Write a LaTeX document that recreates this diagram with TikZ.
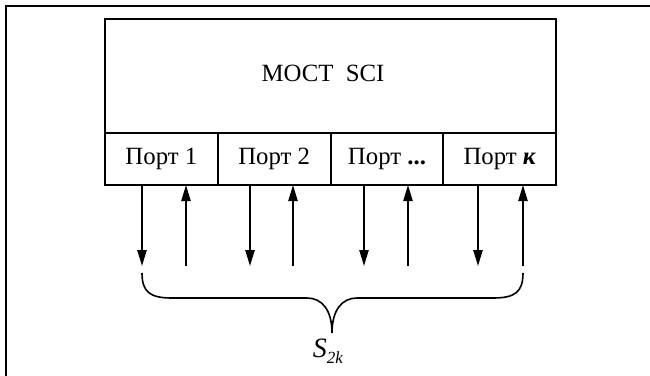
\documentclass[tikz,border=0pt]{standalone}
\usepackage{fontspec}
\setmainfont{Liberation Serif}
\usetikzlibrary{arrows.meta,positioning}
\tikzset{
  bridgebox/.style={draw=black,line width=1pt,minimum width=225.5pt,minimum height=57pt,outer sep=0pt,inner sep=0pt},
  port/.style={draw=black,line width=1pt,minimum width=56.4pt,minimum height=26pt,outer sep=0pt,inner sep=0pt},
  flow/.style={-{Triangle[length=8pt,width=4.6pt]},line width=.8pt},
  frameline/.style={line width=1.4pt},
  braceline/.style={line width=.8pt},
}

\begin{document}
\begin{tikzpicture}[x=0.5pt,y=-0.5pt,font=\fontsize{12.4}{15}\selectfont]
    \useasboundingbox (0,0) rectangle (650,376);
    \draw[frameline] (6,376) -- (6,6) -- (650,6);
    \node[bridgebox] (bridge) at (330.5,76) {};
    \node at (323,73) {МОСТ\ \ SCI};
    \node[port,below right=0pt and 0pt of bridge.south west] (p1) {Порт 1};
    \node[port,right=0pt of p1] (p2) {Порт 2};
    \node[port,right=0pt of p2] (p3) {Порт \textbf{...}};
    \node[port,right=0pt of p3] (p4) {Порт \textbf{\textit{к}}};
    \foreach \i/\dx/\ux in {1/142/186,2/250/293,3/364/408,4/478/523}{
      \coordinate (d\i) at (\dx,266);
      \coordinate (u\i) at (\ux,266);
      \draw[flow] (p\i.south -| d\i) -- (d\i);
      \draw[flow] (u\i) -- (p\i.south -| u\i);
    }
    \draw[braceline] (142,273) .. controls (142,292) and (150,298) .. (172,298) -- (307,298)
      .. controls (322,298) and (332,310) .. (332,333)
      .. controls (332,310) and (342,298) .. (357,298) -- (493,298)
      .. controls (515,298) and (523,292) .. (523,273);
    \node (sum) at (328,351) {\fontsize{14}{16}\selectfont\textit{S}\raisebox{-0.5ex}{\fontsize{8.5}{9}\selectfont\textit{2k}}};
  \end{tikzpicture}
\end{document}
